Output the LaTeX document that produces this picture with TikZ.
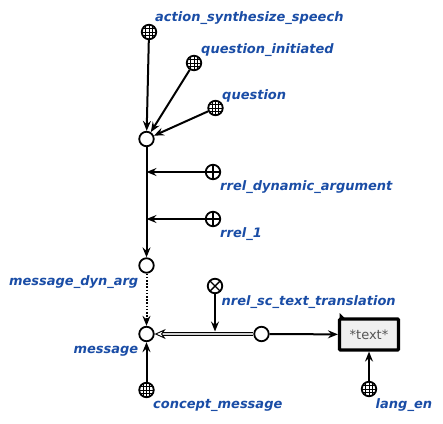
\documentclass[tikz,border=0pt]{standalone}
\usepackage{fontspec}
\newfontfamily\lblfont{DejaVu Sans}
\usetikzlibrary{arrows.meta}
\definecolor{lblblue}{HTML}{1A4DA6}
\definecolor{boxfill}{HTML}{F0F0F0}
\definecolor{boxtext}{HTML}{555555}
\tikzset{
  scnode/.style={circle,draw=black,line width=1.8pt,minimum size=14.5pt,inner sep=0pt,fill=white},
  gridnode/.style={scnode,path picture={
     \foreach \d in {-3.2,0,3.2}{
       \draw[line width=0.9pt] ([xshift=\d pt]path picture bounding box.center) ++(0,-8pt) -- ++(0,16pt);
       \draw[line width=0.9pt] ([yshift=\d pt]path picture bounding box.center) ++(-8pt,0) -- ++(16pt,0);
     }}},
  plusnode/.style={scnode,path picture={
       \draw[line width=1.4pt] (path picture bounding box.north) -- (path picture bounding box.south);
       \draw[line width=1.4pt] (path picture bounding box.west) -- (path picture bounding box.east);
     }},
  crossnode/.style={scnode,path picture={
       \draw[line width=1.4pt] (path picture bounding box.north west) -- (path picture bounding box.south east);
       \draw[line width=1.4pt] (path picture bounding box.north east) -- (path picture bounding box.south west);
     }},
  lbl/.style={font=\lblfont\bfseries\itshape\fontsize{13}{15}\selectfont,text=lblblue,inner sep=0pt},
  arc/.style={line width=2pt,-{Stealth[length=10pt,width=8pt,inset=3.5pt]}},
  dotarc/.style={arc,dash pattern=on 1.6pt off 1.6pt},
  pairarc/.style={draw=black,line width=0.9pt,double=gray!35,double distance=1.8pt,-{Stealth[length=11pt,width=10pt,inset=3.5pt,fill=white]}},
  textbox/.style={draw=black,line width=3.2pt,fill=boxfill,rounded corners=1pt,minimum width=59pt,minimum height=31pt,inner sep=0pt,font=\lblfont\fontsize{13}{15}\selectfont,text=boxtext},
}
\begin{document}
\begin{tikzpicture}[x=1pt,y=-1pt]
\useasboundingbox (0,0) rectangle (443,423);
% nodes
\node[gridnode] (act) at (149,32) {};
\node[gridnode] (qi) at (194,63) {};
\node[gridnode] (q) at (215.5,108) {};
\node[scnode] (hub) at (146.5,139) {};
\node[plusnode] (rda) at (213,172) {};
\node[plusnode] (r1) at (213,219) {};
\node[scnode] (mda) at (146.5,265.5) {};
\node[crossnode] (nrel) at (215,286) {};
\node[scnode] (msg) at (146.5,334) {};
\node[scnode] (pair) at (261.5,334) {};
\node[textbox] (txt) at (369,334.5) {*text*};
\fill (txt.north west) ++(1.6pt,-1.6pt) -- ++(6pt,0) -- ++(-6pt,6pt) -- cycle;
\node[gridnode] (cm) at (146.5,390) {};
\node[gridnode] (le) at (369,389) {};
% coordinates on the connector lines
\coordinate (p1) at (146.5,172);
\coordinate (p2) at (146.5,219);
\coordinate (p3) at (215,331.5);
% labels
\node[lbl,anchor=base west] (lact) at (155,21.5) {action\_synthesize\_speech};
\node[lbl,anchor=base west] (lqi) at (201,53.5) {question\_initiated};
\node[lbl,anchor=base west] (lq) at (222,99) {question};
\node[lbl,anchor=base west] (lrda) at (220,190) {rrel\_dynamic\_argument};
\node[lbl,anchor=base west] (lr1) at (220,237) {rrel\_1};
\node[lbl,anchor=base east] (lmda) at (138.5,285) {message\_dyn\_arg};
\node[lbl,anchor=base west] (lnrel) at (221.5,305) {nrel\_sc\_text\_translation};
\node[lbl,anchor=base east] (lmsg) at (138.5,353) {message};
\node[lbl,anchor=base west] (lcm) at (153,408.5) {concept\_message};
\node[lbl,anchor=base west] (lle) at (375.5,408.5) {lang\_en};
% connectors
\draw[arc] (act) -- (hub);
\draw[arc] (qi) -- (hub);
\draw[arc] (q) -- (hub);
\draw[arc] (hub) -- (mda);
\draw[arc] (rda) -- (p1);
\draw[arc] (r1) -- (p2);
\draw[dotarc] (mda) -- (msg);
\draw[pairarc] (pair) -- (msg);
\draw[arc] (nrel) -- (p3);
\draw[arc] (pair) -- (txt);
\draw[arc] (cm) -- (msg);
\draw[arc] (le) -- (txt);
\end{tikzpicture}
\end{document}
